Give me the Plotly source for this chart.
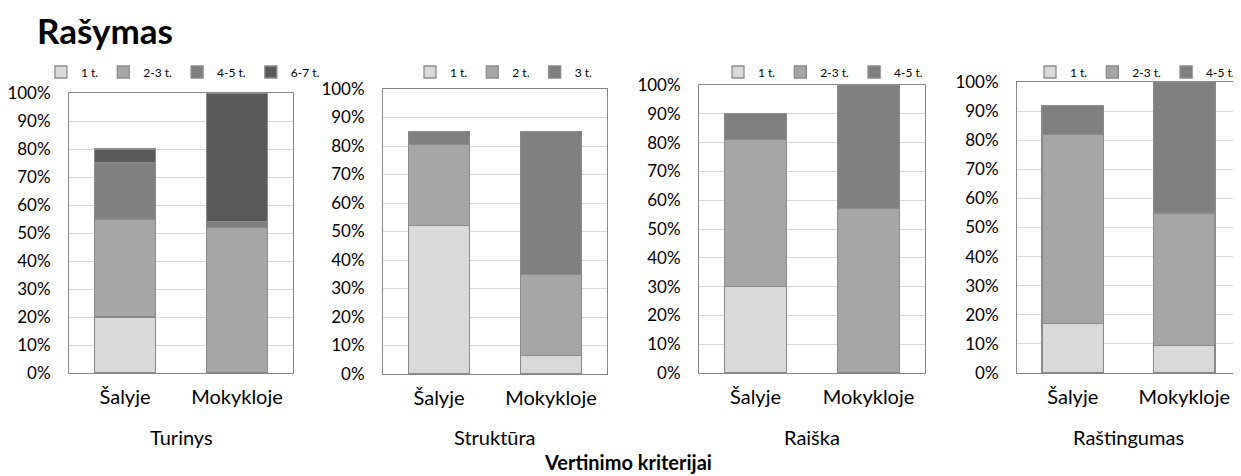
import plotly.graph_objects as go

# ---------------- data ----------------
title_text = "Rašymas"
bottom_title = "Vertinimo kriterijai"
groups = ["Šalyje", "Mokykloje"]
criteria = ["Turinys", "Struktūra", "Raiška", "Raštingumas"]

turinys_levels = ["1 t.", "2-3 t.", "4-5 t.", "6-7 t."]
turinys_1 = [20, 0]
turinys_23 = [35, 52]
turinys_45 = [20, 2]
turinys_67 = [5, 46]

struktura_levels = ["1 t.", "2 t.", "3 t."]
struktura_1 = [52, 6.5]
struktura_2 = [28.5, 28.5]
struktura_3 = [4.5, 50]

raiska_levels = ["1 t.", "2-3 t.", "4-5 t."]
raiska_1 = [30, 0]
raiska_23 = [51, 57]
raiska_45 = [9, 43]

rastingumas_levels = ["1 t.", "2-3 t.", "4-5 t."]
rastingumas_1 = [17, 9.5]
rastingumas_23 = [65, 45.5]
rastingumas_45 = [10, 45]

y_ticks = list(range(0, 101, 10))
y_tick_labels = [f"{v}%" for v in y_ticks]

# ---------------- styling ----------------
PAGE_W, PAGE_H = 1241, 476
OFF = 8  # default page body margin
W, H = PAGE_W - OFF, PAGE_H - OFF
FONT = "Lato"
colors4 = ["#d9d9d9", "#a6a6a6", "#808080", "#595959"]
colors3 = ["#d9d9d9", "#a6a6a6", "#808080"]
outline = "#8a8a8a"


def fx(px):
    return (px - OFF) / W


def fy(py):
    return 1 - (py - OFF) / H


# panel boxes in page pixels: (left, right, top, bottom)
boxes = [(69, 293, 93, 373), (383, 607, 89, 374), (699, 925, 85, 373), (1017, 1240, 82, 373)]
legend_cx = [183, 504, 823, 1135]

panels = [
    (turinys_levels, [turinys_1, turinys_23, turinys_45, turinys_67], colors4),
    (struktura_levels, [struktura_1, struktura_2, struktura_3], colors3),
    (raiska_levels, [raiska_1, raiska_23, raiska_45], colors3),
    (rastingumas_levels, [rastingumas_1, rastingumas_23, rastingumas_45], colors3),
]

fig = go.Figure()
layout = dict(
    width=W, height=H,
    margin=dict(l=0, r=0, t=0, b=0, autoexpand=False),
    paper_bgcolor="white", plot_bgcolor="white",
    barmode="stack", bargap=0.45,
    font=dict(family=FONT, color="black"),
    showlegend=True,
)

annotations = []
for i, (levels, series, cols) in enumerate(panels):
    n = i + 1
    xa = "x" if n == 1 else f"x{n}"
    ya = "y" if n == 1 else f"y{n}"
    lg = "legend" if n == 1 else f"legend{n}"
    for lev, vals, c in zip(levels, series, cols):
        fig.add_trace(go.Bar(
            x=groups, y=vals, name=lev, xaxis=xa, yaxis=ya, legend=lg,
            marker=dict(color=c, line=dict(color=outline, width=1.3)),
            hoverinfo="x+y+name",
        ))
    l, r, t, b = boxes[i]
    xkey = "xaxis" if n == 1 else f"xaxis{n}"
    ykey = "yaxis" if n == 1 else f"yaxis{n}"
    layout[xkey] = dict(
        domain=[fx(l), fx(r)], anchor=ya,
        showline=True, mirror=True, linecolor="#868686", linewidth=1,
        showgrid=False, ticks="", tickfont=dict(size=20, family=FONT),
        ticklabelstandoff=6, fixedrange=True, automargin=False,
    )
    layout[ykey] = dict(
        domain=[fy(b), fy(t)], anchor=xa,
        range=[0, 100], tickvals=y_ticks, ticktext=y_tick_labels,
        showline=True, mirror=True, linecolor="#868686", linewidth=1,
        showgrid=True, gridcolor="#d9d9d9", gridwidth=1,
        ticks="", tickfont=dict(size=17, family=FONT),
        ticklabelstandoff=14, zeroline=False, fixedrange=True, automargin=False,
    )
    layout[lg] = dict(
        orientation="h", x=fx(legend_cx[i]), y=fy(72),
        xanchor="center", yanchor="middle",
        font=dict(size=12, family=FONT), bgcolor="rgba(0,0,0,0)",
        itemwidth=30, traceorder="normal",
        itemclick=False, itemdoubleclick=False,
    )
    annotations.append(dict(
        text=criteria[i], xref="paper", yref="paper",
        x=fx((l + r) / 2), y=fy(437), xanchor="center", yanchor="middle",
        showarrow=False, font=dict(size=20, family=FONT),
    ))

annotations.append(dict(
    text=f"<b>{bottom_title}</b>", xref="paper", yref="paper",
    x=fx(628), y=fy(462), xanchor="center", yanchor="middle",
    showarrow=False, font=dict(size=20, family=FONT),
))
annotations.append(dict(
    text=f"<b>{title_text}</b>", xref="paper", yref="paper",
    x=fx(35), y=fy(30), xanchor="left", yanchor="middle",
    showarrow=False, font=dict(size=35, family=FONT),
))
layout["annotations"] = annotations
fig.update_layout(**layout)
fig.write_html("out.html")
